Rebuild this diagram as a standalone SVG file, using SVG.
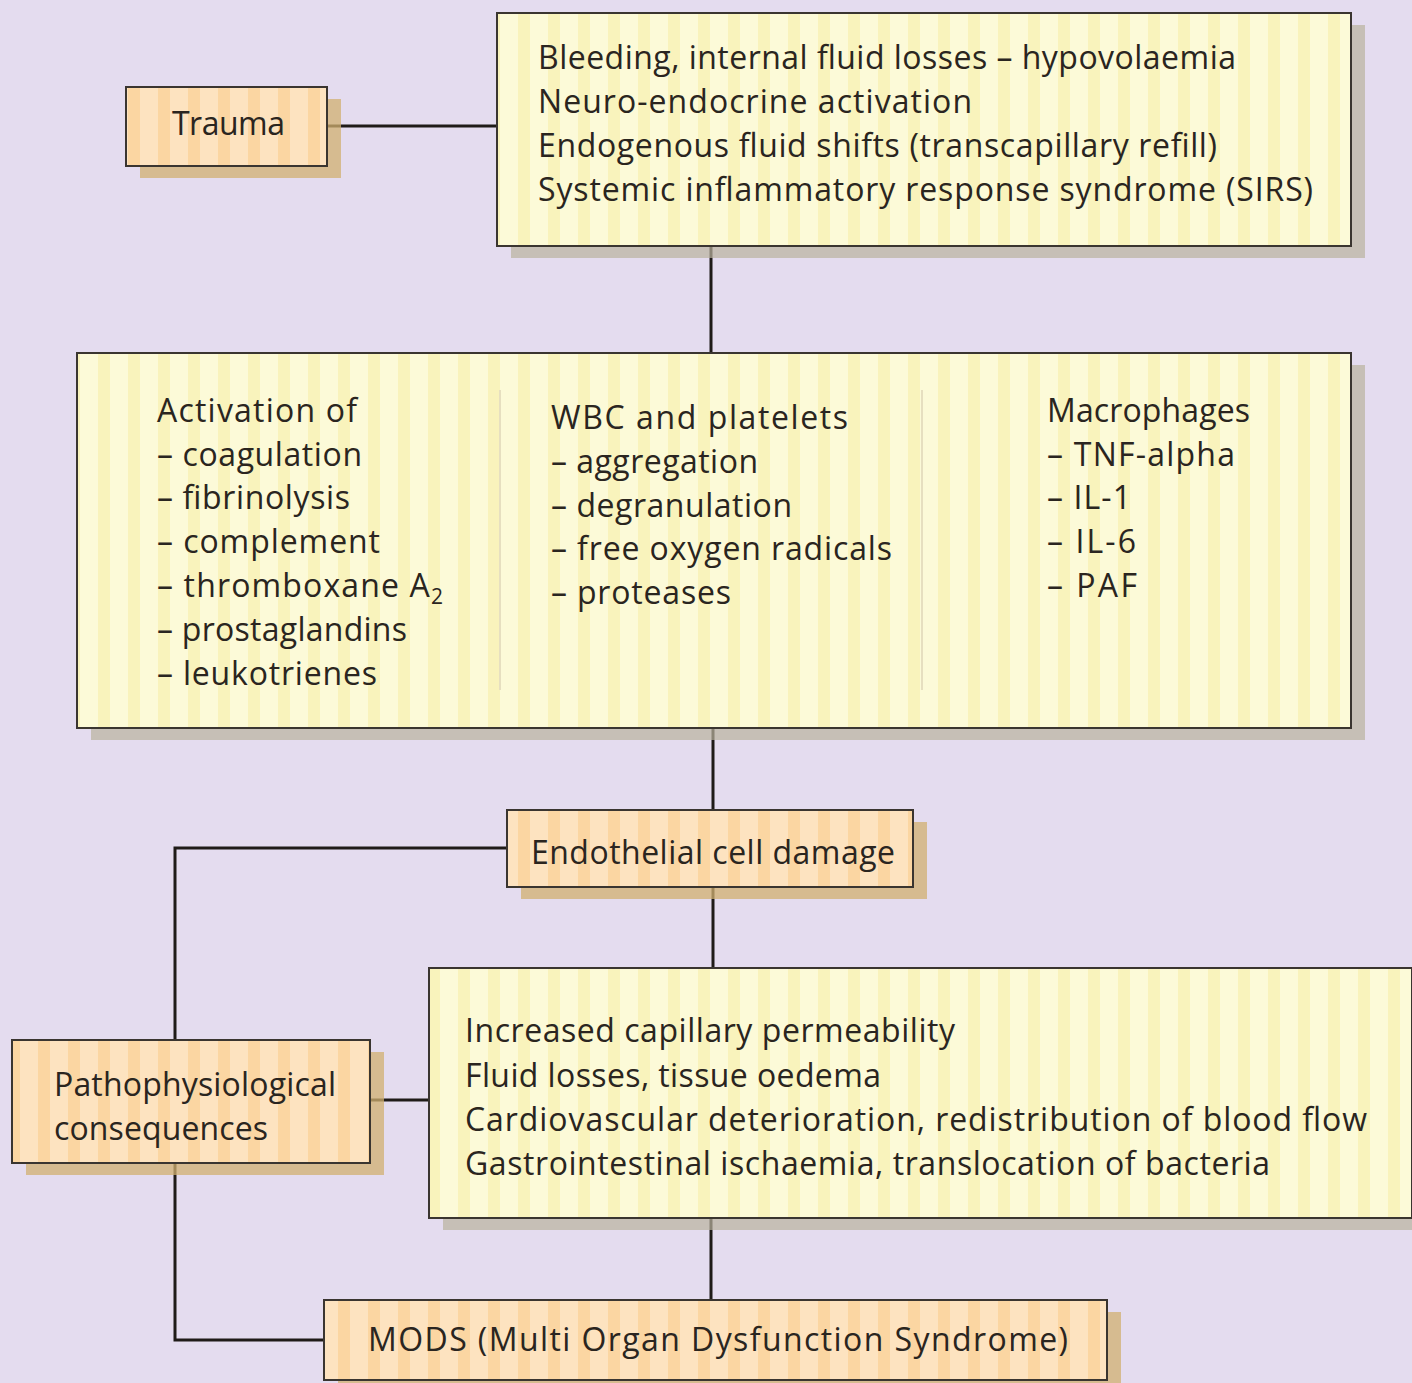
<svg xmlns="http://www.w3.org/2000/svg" width="1412" height="1383" viewBox="0 0 1412 1383">
<defs>
<pattern id="ystripe" patternUnits="userSpaceOnUse" width="30" height="10">
<rect width="30" height="10" fill="#fcfad8"/>
<rect x="8" width="12" height="10" fill="#f9f3bc"/>
</pattern>
<pattern id="ostripe" patternUnits="userSpaceOnUse" width="30" height="10">
<rect width="30" height="10" fill="#fde3c0"/>
<rect x="8" width="12" height="10" fill="#fbd6a2"/>
</pattern>
</defs>
<style>
.yb{fill:url(#ystripe);stroke:#3a3530;stroke-width:2}
.ob{fill:url(#ostripe);stroke:#3a3530;stroke-width:2}
.ysh{fill:#b9b29e;opacity:0.7}
.osh{fill:#d2b070;opacity:0.75}
.t{font-family:"Open Sans",Lato,"Liberation Sans",sans-serif;font-size:32px;fill:#2a2520}
.c{stroke:#1f1b18;stroke-width:3;fill:none}
.dv{stroke:#e6dfc0;stroke-width:2}
</style>
<rect width="1412" height="1383" fill="#e4dcef"/>
<g id="connectors">
<path class="c" d="M327,126 H497"/>
<path class="c" d="M711,246 V353"/>
<path class="c" d="M713,728 V810"/>
<path class="c" d="M713,887 V968"/>
<path class="c" d="M507,848 H175 V1040"/>
<path class="c" d="M370,1100 H429"/>
<path class="c" d="M175,1163 V1340 H324"/>
<path class="c" d="M711,1218 V1300"/>
</g>
<g id="trauma">
<rect class="osh" x="140" y="99" width="201" height="79"/>
<rect class="ob" x="126" y="87" width="201" height="79"/>
<text class="t" x="172" y="135" textLength="113" lengthAdjust="spacing">Trauma</text>
</g>
<g id="causes">
<rect class="ysh" x="511" y="25" width="854" height="233"/>
<rect class="yb" x="497" y="13" width="854" height="233"/>
<text class="t" x="538" y="69" textLength="698" lengthAdjust="spacing">Bleeding, internal fluid losses – hypovolaemia</text>
<text class="t" x="538" y="113" textLength="434" lengthAdjust="spacing">Neuro-endocrine activation</text>
<text class="t" x="538" y="157" textLength="679" lengthAdjust="spacing">Endogenous fluid shifts (transcapillary refill)</text>
<text class="t" x="538" y="201" textLength="775" lengthAdjust="spacing">Systemic inflammatory response syndrome (SIRS)</text>
</g>
<g id="mediators">
<rect class="ysh" x="91" y="365" width="1274" height="375"/>
<rect class="yb" x="77" y="353" width="1274" height="375"/>
<line class="dv" x1="500" y1="390" x2="500" y2="690"/>
<line class="dv" x1="922" y1="390" x2="922" y2="690"/>
<text class="t" x="157" y="422" textLength="200" lengthAdjust="spacing">Activation of</text>
<text class="t" x="157" y="466" textLength="205" lengthAdjust="spacing">– coagulation</text>
<text class="t" x="157" y="509" textLength="193" lengthAdjust="spacing">– fibrinolysis</text>
<text class="t" x="157" y="553" textLength="223" lengthAdjust="spacing">– complement</text>
<text class="t" x="157" y="597" textLength="286" lengthAdjust="spacing">– thromboxane A<tspan font-size="21" dy="7">2</tspan></text>
<text class="t" x="157" y="641" textLength="250" lengthAdjust="spacing">– prostaglandins</text>
<text class="t" x="157" y="685" textLength="220" lengthAdjust="spacing">– leukotrienes</text>
<text class="t" x="551" y="429" textLength="297" lengthAdjust="spacing">WBC and platelets</text>
<text class="t" x="551" y="473" textLength="207" lengthAdjust="spacing">– aggregation</text>
<text class="t" x="551" y="517" textLength="241" lengthAdjust="spacing">– degranulation</text>
<text class="t" x="551" y="560" textLength="341" lengthAdjust="spacing">– free oxygen radicals</text>
<text class="t" x="551" y="604" textLength="180" lengthAdjust="spacing">– proteases</text>
<text class="t" x="1047" y="422" textLength="203" lengthAdjust="spacing">Macrophages</text>
<text class="t" x="1047" y="466" textLength="188" lengthAdjust="spacing">– TNF-alpha</text>
<text class="t" x="1047" y="509" textLength="84" lengthAdjust="spacing">– IL-1</text>
<text class="t" x="1047" y="553" textLength="89" lengthAdjust="spacing">– IL-6</text>
<text class="t" x="1047" y="597" textLength="90" lengthAdjust="spacing">– PAF</text>
</g>
<g id="endothelial">
<rect class="osh" x="521" y="822" width="406" height="77"/>
<rect class="ob" x="507" y="810" width="406" height="77"/>
<text class="t" x="531" y="864" textLength="364" lengthAdjust="spacing">Endothelial cell damage</text>
</g>
<g id="effects">
<rect class="ysh" x="443" y="980" width="983" height="250"/>
<rect class="yb" x="429" y="968" width="983" height="250"/>
<text class="t" x="465" y="1042" textLength="490" lengthAdjust="spacing">Increased capillary permeability</text>
<text class="t" x="465" y="1087" textLength="416" lengthAdjust="spacing">Fluid losses, tissue oedema</text>
<text class="t" x="465" y="1131" textLength="902" lengthAdjust="spacing">Cardiovascular deterioration, redistribution of blood flow</text>
<text class="t" x="465" y="1175" textLength="805" lengthAdjust="spacing">Gastrointestinal ischaemia, translocation of bacteria</text>
</g>
<g id="patho">
<rect class="osh" x="26" y="1052" width="358" height="123"/>
<rect class="ob" x="12" y="1040" width="358" height="123"/>
<text class="t" x="54" y="1096" textLength="282" lengthAdjust="spacing">Pathophysiological</text>
<text class="t" x="54" y="1140" textLength="214" lengthAdjust="spacing">consequences</text>
</g>
<g id="mods">
<rect class="osh" x="338" y="1312" width="783" height="80"/>
<rect class="ob" x="324" y="1300" width="783" height="80"/>
<text class="t" x="368" y="1351" textLength="700" lengthAdjust="spacing">MODS (Multi Organ Dysfunction Syndrome)</text>
</g>
</svg>
